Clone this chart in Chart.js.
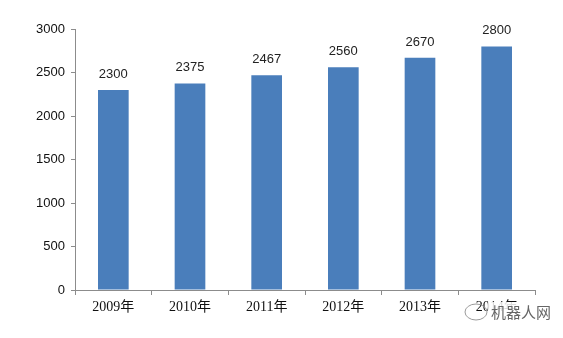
<!DOCTYPE html>
<html>
<head>
<meta charset="utf-8">
<script src="https://cdn.jsdelivr.net/npm/chart.js@4/dist/chart.umd.min.js"></script>
<style>
  html, body { margin: 0; padding: 0; background: #fff; }
  #wrap { width: 563px; height: 338px; position: relative; }
</style>
</head>
<body>
<div id="wrap"><canvas id="myChart" width="563" height="338"></canvas></div>
<script>
const years = ["2009年", "2010年", "2011年", "2012年", "2013年", "2014年"];
const values = [2300, 2375, 2467, 2560, 2670, 2800];
const yMax = 3000;
const yStep = 500;

const barColor = "#4a7ebb";
const axisColor = "#8c8c8c";

// draws the number above each bar
const valueLabels = {
  id: "valueLabels",
  afterDatasetsDraw(chart) {
    const c = chart.ctx;
    const meta = chart.getDatasetMeta(0);
    c.save();
    c.fillStyle = "#222";
    c.font = "13px 'Liberation Sans', 'Open Sans', sans-serif";
    c.textAlign = "center";
    c.textBaseline = "bottom";
    meta.data.forEach((bar, i) => {
      c.fillText(values[i], bar.x, bar.y - 9);
    });
    c.restore();
  },
};

// corner mark of the source site
const cornerMark = {
  id: "cornerMark",
  afterDraw(chart) {
    const c = chart.ctx;
    c.save();
    c.fillStyle = "rgba(255,255,255,0.85)";
    c.fillRect(488, 302, 60, 20);
    c.strokeStyle = "#9a9a9a";
    c.lineWidth = 1;
    c.beginPath();
    c.ellipse(476, 312, 11, 8, 0, 0, Math.PI * 2);
    c.stroke();
    c.fillStyle = "#666";
    c.font = "15px 'Noto Sans CJK SC', sans-serif";
    c.textAlign = "left";
    c.textBaseline = "middle";
    c.fillText("机器人网", 491, 312);
    c.restore();
  },
};

const data = {
  labels: years,
  datasets: [
    {
      label: "values",
      backgroundColor: barColor,
      borderWidth: 0,
      data: values,
      categoryPercentage: 1,
      barPercentage: 0.4,
    },
  ],
};

const config = {
  type: "bar",
  data: data,
  options: {
    responsive: false,
    animation: false,
    layout: { padding: { top: 29, right: 28, left: 0, bottom: 0 } },
    plugins: {
      legend: { display: false },
      tooltip: { enabled: false },
    },
    scales: {
      x: {
        grid: {
          display: true,
          drawOnChartArea: false,
          drawTicks: true,
          tickLength: 5,
          color: axisColor,
          offset: true,
        },
        border: { color: axisColor },
        ticks: {
          color: "#111",
          padding: 4,
          font: { family: "'Liberation Serif', 'Noto Sans CJK SC', serif", size: 14 },
        },
        afterFit(scale) { scale.height = 48; },
      },
      y: {
        min: 0,
        max: yMax,
        ticks: {
          stepSize: yStep,
          color: "#111",
          padding: 6,
          font: { family: "'Liberation Sans', 'Open Sans', sans-serif", size: 13 },
          callback: (v) => String(v),
        },
        grid: {
          display: true,
          drawOnChartArea: false,
          drawTicks: true,
          tickLength: 4,
          color: axisColor,
        },
        border: { color: axisColor },
        afterFit(scale) { scale.width = 75; },
      },
    },
  },
  plugins: [valueLabels, cornerMark],
};

const myChart = new Chart(document.getElementById("myChart"), config);
</script>
</body>
</html>
